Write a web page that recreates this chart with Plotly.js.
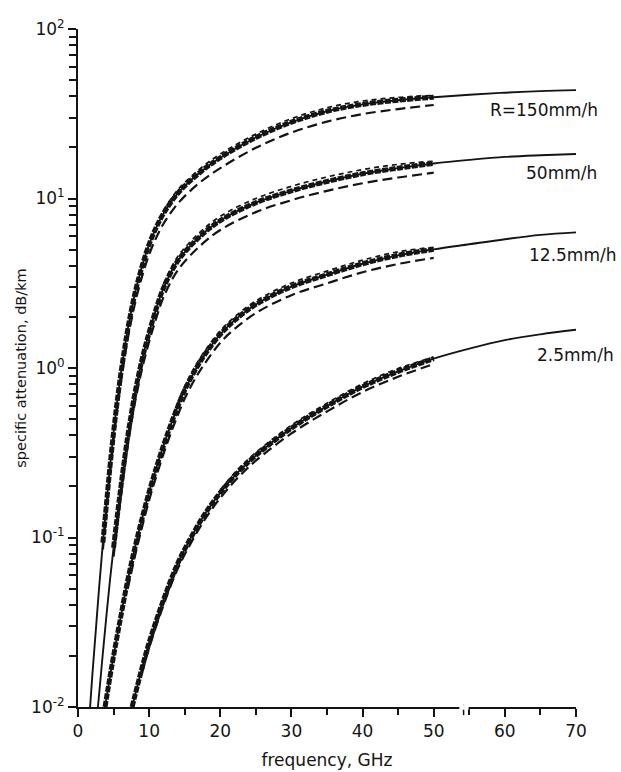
<!DOCTYPE html>
<html>
<head>
<meta charset="utf-8">
<script src="https://cdn.plot.ly/plotly-3.0.1.min.js"></script>
<style>html,body{margin:0;padding:0;background:#fff;}#chart{width:621px;height:772px;}</style>
</head>
<body>
<div id="chart"></div>
<script>
// ---- data (frequency GHz, specific attenuation dB/km) ----
// R = 150 mm/h : solid curve, long-dashed curve (L), thin short-dashed curve (S)
const f150 = [1.7,2,2.5,3,3.5,4,4.5,5,5.5,6,6.5,7,8,9,10,11,12,14,17,20,25,30,35,40,45,50,55,60,65,70];
const a150 = [0.01,0.0151,0.0282,0.0525,0.0933,0.158,0.263,0.417,0.631,0.912,1.26,1.70,2.75,3.98,5.37,6.76,8.13,10.7,14.1,17.4,22.9,28.2,32.7,35.9,38.0,39.6,40.9,42.1,43.0,43.6];
const f150L = [3.5,4,4.5,5,5.5,6,6.5,7,8,9,10,11,12,14,17,20,25,30,35,40,45,50];
const a150L = [0.085,0.143,0.237,0.375,0.565,0.81,1.11,1.49,2.39,3.46,4.67,5.88,7.07,9.3,12.3,15.1,19.9,24.5,28.4,31.5,33.7,35.6];
const f150S = [12,14,17,20,25,30,35,40,45,50];
const a150S = [8.5,11.2,14.8,18.3,24.0,29.6,34.3,37.6,39.5,40.6];
// R = 50 mm/h
const f50 = [2.8,3,3.5,4,4.5,5,5.5,6,6.5,7,7.5,8,9,10,11,12,14,17,20,25,30,35,40,45,50,55,60,65,70];
const a50 = [0.01,0.0123,0.0209,0.0347,0.0562,0.0871,0.132,0.195,0.282,0.398,0.537,0.708,1.12,1.62,2.24,2.95,4.27,5.89,7.41,9.44,11.1,12.6,14.0,15.1,16.1,16.9,17.6,18.0,18.3];
const f50L = [5,5.5,6,6.5,7,7.5,8,9,10,11,12,14,17,20,25,30,35,40,45,50];
const a50L = [0.077,0.116,0.172,0.248,0.35,0.473,0.623,0.986,1.43,1.97,2.6,3.76,5.18,6.52,8.31,9.77,11.1,12.3,13.3,14.2];
const f50S = [12,14,17,20,25,30,35,40,45,50];
const a50S = [3.13,4.53,6.24,7.85,10.0,11.8,13.4,14.8,15.9,16.6];
// R = 12.5 mm/h
const f125 = [3.8,4.5,5,6,7,8,9,10,11,12,13,14,15,16.5,18,20,22,25,30,35,40,45,50,55,60,65,70];
const a125 = [0.01,0.0151,0.02,0.0339,0.0562,0.0871,0.129,0.186,0.257,0.347,0.457,0.589,0.741,0.977,1.23,1.58,1.91,2.37,3.02,3.55,4.12,4.62,5.01,5.37,5.75,6.10,6.31];
const f125L = [7,8,9,10,11,12,13,14,15,16.5,18,20,22,25,30,35,40,45,50];
const a125L = [0.05,0.0775,0.115,0.166,0.229,0.309,0.407,0.524,0.66,0.87,1.09,1.41,1.70,2.11,2.69,3.16,3.67,4.11,4.46];
const f125S = [13,14,15,16.5,18,20,22,25,30,35,40,45,50];
const a125S = [0.48,0.62,0.78,1.03,1.29,1.66,2.0,2.49,3.17,3.73,4.33,4.85,5.16];
// R = 2.5 mm/h
const f25 = [7.6,9,10,12,14,16,18,20,22.5,25,30,35,40,45,50,55,60,65,70];
const a25 = [0.01,0.017,0.024,0.0427,0.07,0.102,0.141,0.184,0.243,0.305,0.442,0.596,0.776,0.955,1.135,1.30,1.46,1.58,1.68];
const f25L = [9,10,12,14,16,18,20,22.5,25,30,35,40,45,50];
const a25L = [0.0158,0.0223,0.0397,0.0651,0.0949,0.131,0.171,0.226,0.284,0.411,0.554,0.722,0.888,1.056];
const f25S = [20,22.5,25,30,35,40,45,50];
const a25S = [0.191,0.253,0.317,0.46,0.62,0.807,0.993,1.16];

const rainLabels = ["R=150mm/h","50mm/h","12.5mm/h","2.5mm/h"];
const thickStart = [3.5, 5, 3.8, 7.6];   // GHz where the heavy dashed curve begins
const thickEnd = 50;

const yTickVals = [0.01,0.1,1,10,100];
const yTickText = ["10<sup>-2</sup>","10<sup>-1</sup>","10<sup>0</sup>","10<sup>1</sup>","10<sup>2</sup>"];
const xTickVals = [0,10,20,30,40,50,60,70];

// ---- build traces ----
const ink = "#141414";
const groups = [
  {f:f150,a:a150,fL:f150L,aL:a150L,fS:f150S,aS:a150S},
  {f:f50,a:a50,fL:f50L,aL:a50L,fS:f50S,aS:a50S},
  {f:f125,a:a125,fL:f125L,aL:a125L,fS:f125S,aS:a125S},
  {f:f25,a:a25,fL:f25L,aL:a25L,fS:f25S,aS:a25S}
];
const traces = [];
groups.forEach((g,i)=>{
  traces.push({x:g.f,y:g.a,mode:"lines",line:{color:ink,width:1.9,shape:"spline"},hoverinfo:"skip",name:rainLabels[i]});
  const tx=[],ty=[];
  g.f.forEach((v,j)=>{ if(v>=thickStart[i] && v<=thickEnd){tx.push(v);ty.push(g.a[j]);} });
  traces.push({x:tx,y:ty,mode:"lines",line:{color:ink,width:5,dash:"6px,1.5px",shape:"spline"},hoverinfo:"skip",name:rainLabels[i]+" (b)"});
  traces.push({x:g.fL,y:g.aL,mode:"lines",line:{color:ink,width:2.2,dash:"10px,5px",shape:"spline"},hoverinfo:"skip",name:rainLabels[i]+" (c)"});
  traces.push({x:g.fS,y:g.aS,mode:"lines",line:{color:ink,width:1.7,dash:"5px,4px",shape:"spline"},hoverinfo:"skip",name:rainLabels[i]+" (d)"});
});

// minor ticks on the log axis (2..9 in each decade)
const yMinor=[];
for(let d=0; d<yTickVals.length-1; d++){ for(let m=2;m<=9;m++){ yMinor.push(m*yTickVals[d]); } }

const font = "DejaVu Sans, sans-serif";
const labelPos = [ {x:0.823,y:1.522}, {x:0.896,y:1.15}, {x:0.902,y:0.667}, {x:0.918,y:0.077} ];

const layout = {
  width:621, height:772,
  margin:{l:78,r:45,t:29,b:65},
  paper_bgcolor:"#fff", plot_bgcolor:"#fff",
  showlegend:false,
  font:{family:font,color:ink,size:16},
  xaxis:{
    range:[0,70], showgrid:false, zeroline:false,
    showline:true, linecolor:ink, linewidth:2,
    tickvals:xTickVals, ticks:"outside", ticklen:8, tickwidth:2, tickcolor:ink,
    tickfont:{size:17,family:font,color:ink},
    minor:{dtick:5, tick0:0, ticks:"outside", ticklen:6, tickwidth:2, tickcolor:ink},
    title:{text:"frequency, GHz", font:{size:17,family:font,color:ink}, standoff:14}
  },
  yaxis:{
    type:"log", range:[-2,2], showgrid:false, zeroline:false,
    showline:true, linecolor:ink, linewidth:2,
    tickvals:yTickVals, ticktext:yTickText, ticks:"outside", ticklen:8, tickwidth:2, tickcolor:ink,
    tickfont:{size:17,family:font,color:ink},
    minor:{tickvals:yMinor, ticks:"outside", ticklen:7, tickwidth:2, tickcolor:ink},
    title:{text:"specific attenuation, dB/km", font:{size:14.5,family:font,color:ink}, standoff:1}
  },
  shapes:[
    {type:"line", xref:"x", yref:"paper", x0:54.2, x1:54.2, y0:-0.012, y1:0.004, line:{color:ink,width:1.5}},
    {type:"rect", xref:"x", yref:"paper", x0:53.6, x1:54.9, y0:-0.004, y1:0.004, fillcolor:"#fff", line:{width:0}}
  ],
  annotations: rainLabels.map((t,i)=>({
    text:t, xref:"paper", yref:"y", x:labelPos[i].x, y:labelPos[i].y,
    xanchor:"left", yanchor:"middle", showarrow:false,
    font:{size:17,family:font,color:ink}
  }))
};

Plotly.newPlot("chart", traces, layout, {displayModeBar:false, staticPlot:true});
</script>
</body>
</html>
